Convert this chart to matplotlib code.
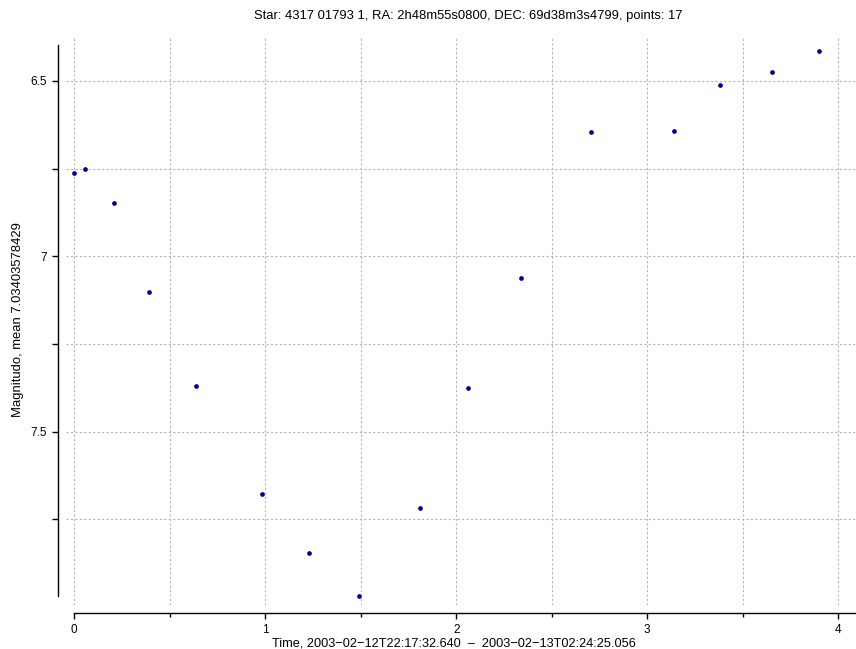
import matplotlib
matplotlib.use("Agg")
import matplotlib.pyplot as plt
from matplotlib.ticker import MultipleLocator

plt.rcParams['font.family'] = ['Liberation Sans', 'DejaVu Sans']

time_hours = [0.000, 0.056, 0.209, 0.393, 0.636, 0.981, 1.230, 1.492,
              1.810, 2.063, 2.339, 2.704, 3.138, 3.381, 3.653, 3.901]
magnitude = [6.763, 6.750, 6.849, 7.102, 7.371, 7.678, 7.845, 7.969,
             7.718, 7.374, 7.061, 6.647, 6.642, 6.513, 6.475, 6.414]

title = "Star: 4317 01793 1, RA: 2h48m55s0800, DEC: 69d38m3s4799, points: 17"
ylabel = "Magnitudo, mean 7.03403578429"
xlabel = "Time, 2003\u221202\u221212T22:17:32.640  \u2013  2003\u221202\u221213T02:24:25.056"

W, H = 856, 649
fig = plt.figure(figsize=(W / 100, H / 100), dpi=100)
ax = fig.add_axes([66 / W, 1 - 605 / H, (856 - 66) / W, (605 - 36) / H])

ax.plot(time_hours, magnitude, 'o', color='#00008B', ms=3.4, mew=0, zorder=3)

ax.set_xlim(-0.043, 4.093)
ax.set_ylim(7.994, 6.372)

ax.xaxis.set_major_locator(MultipleLocator(1))
ax.xaxis.set_minor_locator(MultipleLocator(0.5))
ax.yaxis.set_major_locator(MultipleLocator(0.5))
ax.yaxis.set_minor_locator(MultipleLocator(0.25))
ax.set_yticks([6.5, 7.0, 7.5])
ax.set_yticklabels(['6.5', '7', '7.5'])

grid_kw = dict(color='#b4b4b4', linestyle=(0, (2, 2)), linewidth=0.8)
ax.grid(True, which='both', axis='both', **grid_kw)
ax.set_axisbelow(True)

for s in ['top', 'right']:
    ax.spines[s].set_visible(False)
ax.spines['left'].set_position(('outward', 6))
ax.spines['bottom'].set_position(('outward', 6))
ax.spines['left'].set_bounds(6.397, 7.969)
ax.spines['bottom'].set_bounds(0, 4.093)
for s in ['left', 'bottom']:
    ax.spines[s].set_linewidth(1.0)
    ax.spines[s].set_color('black')

ax.tick_params(axis='x', which='major', length=4.5, width=1.0, labelsize=8.5, pad=3)
ax.tick_params(axis='x', which='minor', length=3, width=1.0)
ax.tick_params(axis='y', which='both', length=4.5, width=1.0, labelsize=8.5, pad=3)

fig.text(468 / W, 1 - 16 / H, title, ha='center', va='center', fontsize=9.4)
fig.text(18 / W, 1 - 320 / H, ylabel, rotation=90, ha='center', va='center', fontsize=9.4)
fig.text(454 / W, 1 - 643 / H, xlabel, ha='center', va='center', fontsize=9.2)

fig.savefig('out.png', dpi=100)
